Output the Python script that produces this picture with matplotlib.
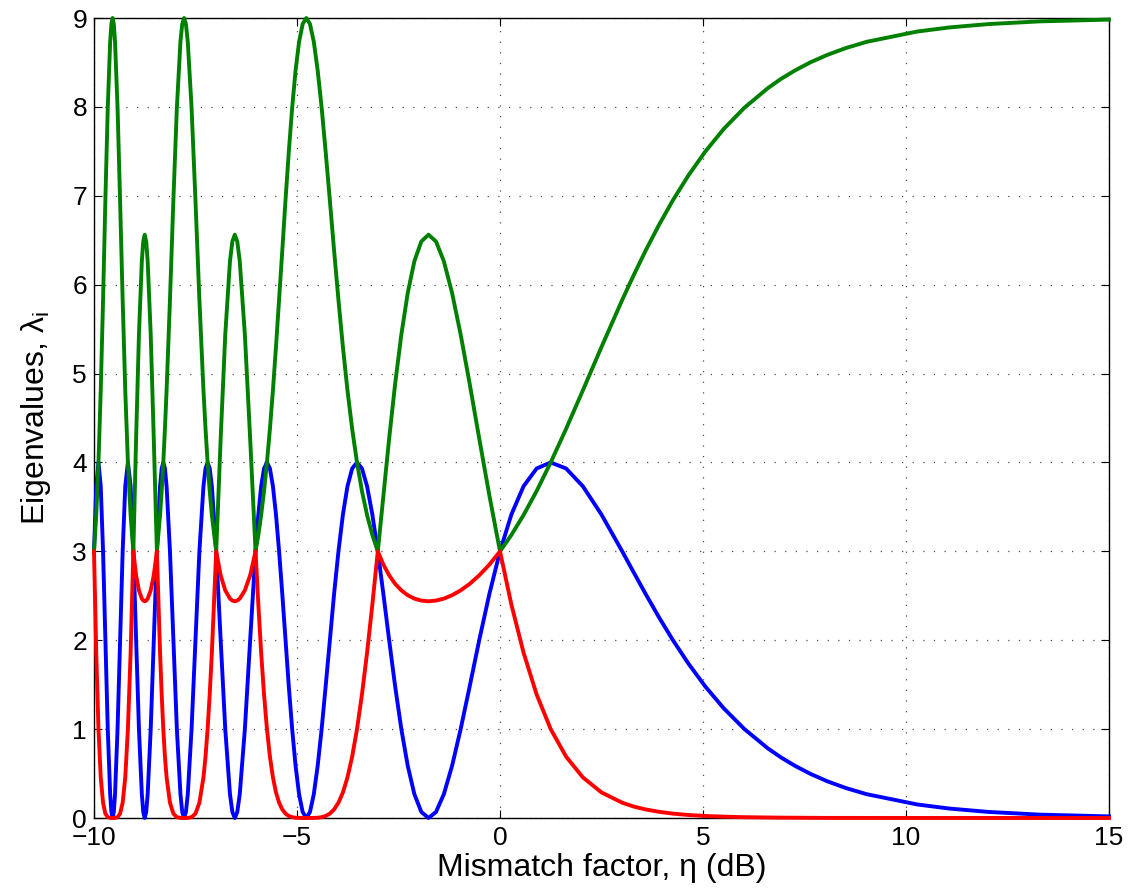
import matplotlib
matplotlib.use("Agg")
import matplotlib.pyplot as plt

# mismatch factor (dB) and the three eigenvalue branches
eta_db = [
    -10.000, -9.945, -9.890, -9.834, -9.777, -9.720, -9.661, -9.602,
    -9.572, -9.542, -9.512, -9.482, -9.420, -9.358, -9.294, -9.230,
    -9.165, -9.098, -9.031, -8.963, -8.893, -8.822, -8.787, -8.751,
    -8.714, -8.678, -8.603, -8.528, -8.451, -8.373, -8.333, -8.293,
    -8.253, -8.212, -8.129, -8.045, -7.959, -7.871, -7.827, -7.782,
    -7.736, -7.690, -7.597, -7.501, -7.404, -7.304, -7.253, -7.202,
    -7.150, -7.097, -6.990, -6.880, -6.767, -6.651, -6.592, -6.532,
    -6.471, -6.410, -6.284, -6.154, -6.021, -5.952, -5.883, -5.812,
    -5.740, -5.667, -5.593, -5.518, -5.441, -5.362, -5.283, -5.202,
    -5.119, -5.035, -4.949, -4.861, -4.771, -4.680, -4.586, -4.491,
    -4.393, -4.294, -4.191, -4.087, -3.979, -3.869, -3.757, -3.641,
    -3.522, -3.400, -3.274, -3.144, -3.010, -2.872, -2.730, -2.583,
    -2.430, -2.272, -2.109, -1.938, -1.761, -1.576, -1.383, -1.181,
    -0.969, -0.746, -0.512, -0.263, 0.000, 0.280, 0.580, 0.902,
    1.249, 1.627, 2.041, 2.499, 3.010, 3.291, 3.590, 3.912,
    4.260, 4.638, 5.052, 5.509, 6.021, 6.601, 6.922, 7.270,
    7.648, 8.062, 8.519, 9.031, 10.280, 11.072, 12.041, 13.291,
    15.000,
]

lam_blue = [
    3.000, 3.732, 4.000, 3.732, 3.000, 2.000, 1.000, 0.268,
    0.068, 0.000, 0.068, 0.268, 1.000, 2.000, 3.000, 3.732,
    4.000, 3.732, 3.000, 2.000, 1.000, 0.268, 0.068, 0.000,
    0.068, 0.268, 1.000, 2.000, 3.000, 3.732, 3.932, 4.000,
    3.932, 3.732, 3.000, 2.000, 1.000, 0.268, 0.068, 0.000,
    0.068, 0.268, 1.000, 2.000, 3.000, 3.732, 3.932, 4.000,
    3.932, 3.732, 3.000, 2.000, 1.000, 0.268, 0.068, 0.000,
    0.068, 0.268, 1.000, 2.000, 3.000, 3.414, 3.732, 3.932,
    4.000, 3.932, 3.732, 3.414, 3.000, 2.518, 2.000, 1.482,
    1.000, 0.586, 0.268, 0.068, 0.000, 0.068, 0.268, 0.586,
    1.000, 1.482, 2.000, 2.518, 3.000, 3.414, 3.732, 3.932,
    4.000, 3.932, 3.732, 3.414, 3.000, 2.518, 2.000, 1.482,
    1.000, 0.586, 0.268, 0.068, 0.000, 0.068, 0.268, 0.586,
    1.000, 1.482, 2.000, 2.518, 3.000, 3.414, 3.732, 3.932,
    4.000, 3.932, 3.732, 3.414, 3.000, 2.765, 2.518, 2.261,
    2.000, 1.739, 1.482, 1.235, 1.000, 0.782, 0.681, 0.586,
    0.496, 0.413, 0.337, 0.268, 0.152, 0.106, 0.068, 0.038,
    0.018,
]

lam_green = [
    3.000, 3.408, 4.000, 4.811, 5.828, 6.951, 7.991, 8.732,
    8.932, 9.000, 8.932, 8.732, 7.991, 6.951, 5.828, 4.811,
    4.000, 3.408, 3.000, 4.270, 5.439, 6.264, 6.486, 6.562,
    6.486, 6.264, 5.439, 4.270, 3.000, 3.408, 3.678, 4.000,
    4.377, 4.811, 5.828, 6.951, 7.991, 8.732, 8.932, 9.000,
    8.932, 8.732, 7.991, 6.951, 5.828, 4.811, 4.377, 4.000,
    3.678, 3.408, 3.000, 4.270, 5.439, 6.264, 6.486, 6.562,
    6.486, 6.264, 5.439, 4.270, 3.000, 3.184, 3.408, 3.678,
    4.000, 4.377, 4.811, 5.298, 5.828, 6.386, 6.951, 7.495,
    7.991, 8.411, 8.732, 8.932, 9.000, 8.932, 8.732, 8.411,
    7.991, 7.495, 6.951, 6.386, 5.828, 5.298, 4.811, 4.377,
    4.000, 3.678, 3.408, 3.184, 3.000, 3.632, 4.270, 4.883,
    5.439, 5.908, 6.264, 6.486, 6.562, 6.486, 6.264, 5.908,
    5.439, 4.883, 4.270, 3.632, 3.000, 3.184, 3.408, 3.678,
    4.000, 4.377, 4.811, 5.298, 5.828, 6.105, 6.386, 6.669,
    6.951, 7.227, 7.495, 7.751, 7.991, 8.212, 8.315, 8.411,
    8.502, 8.585, 8.662, 8.732, 8.848, 8.894, 8.932, 8.962,
    8.982,
]

lam_red = [
    3.000, 1.860, 1.000, 0.457, 0.172, 0.049, 0.009, 0.001,
    0.000, 0.000, 0.000, 0.001, 0.009, 0.049, 0.172, 0.457,
    1.000, 1.860, 3.000, 2.730, 2.561, 2.468, 2.446, 2.438,
    2.446, 2.468, 2.561, 2.730, 3.000, 1.860, 1.390, 1.000,
    0.691, 0.457, 0.172, 0.049, 0.009, 0.001, 0.000, 0.000,
    0.000, 0.001, 0.009, 0.049, 0.172, 0.457, 0.691, 1.000,
    1.390, 1.860, 3.000, 2.730, 2.561, 2.468, 2.446, 2.438,
    2.446, 2.468, 2.561, 2.730, 3.000, 2.402, 1.860, 1.390,
    1.000, 0.691, 0.457, 0.288, 0.172, 0.096, 0.049, 0.023,
    0.009, 0.003, 0.001, 0.000, 0.000, 0.000, 0.001, 0.003,
    0.009, 0.023, 0.049, 0.096, 0.172, 0.288, 0.457, 0.691,
    1.000, 1.390, 1.860, 2.402, 3.000, 2.850, 2.730, 2.634,
    2.561, 2.506, 2.468, 2.446, 2.438, 2.446, 2.468, 2.506,
    2.561, 2.634, 2.730, 2.850, 3.000, 2.402, 1.860, 1.390,
    1.000, 0.691, 0.457, 0.288, 0.172, 0.129, 0.096, 0.070,
    0.049, 0.034, 0.023, 0.015, 0.009, 0.005, 0.004, 0.003,
    0.002, 0.001, 0.001, 0.001, 0.000, 0.000, 0.000, 0.000,
    0.000,
]

x_ticks = [-10, -5, 0, 5, 10, 15]
y_ticks = [0, 1, 2, 3, 4, 5, 6, 7, 8, 9]

plt.rcParams["font.family"] = ["Liberation Sans", "DejaVu Sans"]
plt.rcParams["mathtext.fontset"] = "custom"
plt.rcParams["mathtext.rm"] = "Liberation Sans"
plt.rcParams["mathtext.it"] = "Liberation Sans:italic"

fig = plt.figure(figsize=(11.29, 8.92), dpi=100)
ax = fig.add_axes([94 / 1129, 74 / 892, 1015 / 1129, 800 / 892])

ax.plot(eta_db, lam_blue, color=(0, 0, 1), lw=2.8, clip_on=False, zorder=3)
ax.plot(eta_db, lam_green, color=(0, 0.5, 0), lw=2.8, clip_on=False, zorder=4)
ax.plot(eta_db, lam_red, color=(1, 0, 0), lw=2.8, clip_on=False, zorder=5)

ax.set_xlim(-10, 15)
ax.set_ylim(0, 9)
ax.set_xticks(x_ticks)
ax.set_yticks(y_ticks)
ax.grid(True, color="0.3", linestyle=(0, (1, 7.5)), lw=0.9)
ax.set_axisbelow(True)
ax.tick_params(direction="in", top=True, right=True, length=6, width=0.8,
               labelsize=19)
ax.tick_params(axis="x", pad=6)
ax.tick_params(axis="y", pad=5)
for s in ax.spines.values():
    s.set_linewidth(1.0)

ax.set_xlabel("Mismatch factor, η (dB)", fontsize=23, labelpad=2)
ax.set_ylabel(r"Eigenvalues, $\mathrm{\lambda_i}$", fontsize=23, labelpad=14)

fig.savefig("out.png", dpi=100)
